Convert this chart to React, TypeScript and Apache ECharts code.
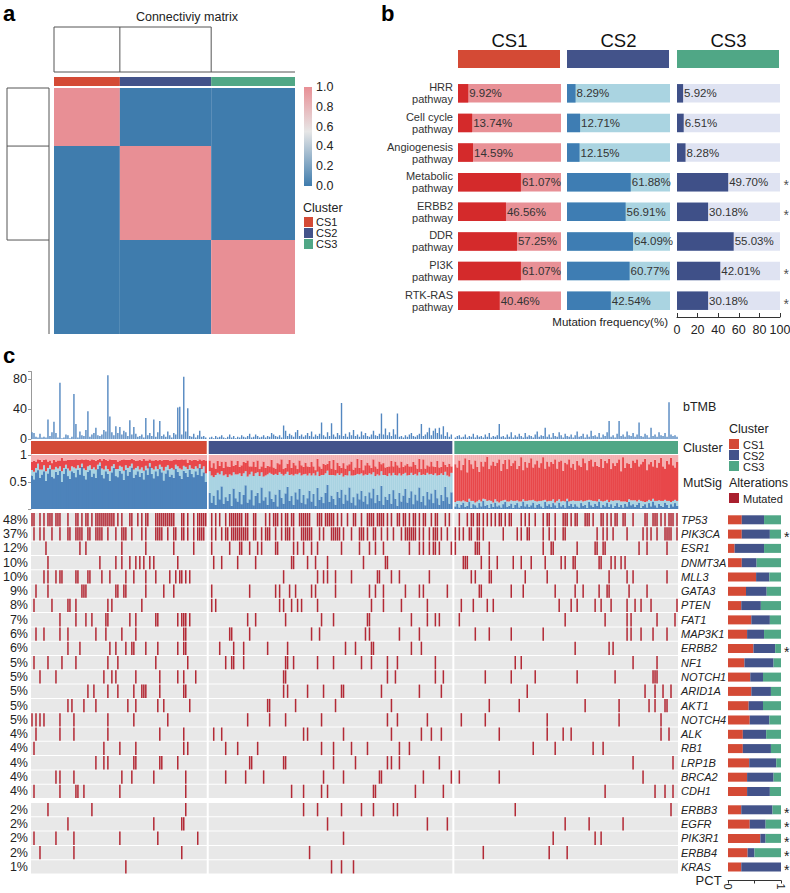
import React, { useEffect, useRef } from 'react';
import * as echarts from 'echarts';

const FONT = '"Liberation Sans", Arial, Helvetica, sans-serif';

// ---------- Panel a ----------
const clusters = ['CS1', 'CS2', 'CS3'];
const clusterColors = ['#d44a35', '#43538a', '#50a786'];
const clusterSizes = [88, 122, 112];
const consensusRowSizes = [76, 123, 123];
const consensus = [
  [1, 0, 0],
  [0, 1, 0],
  [0, 0, 1],
];

// ---------- Panel b ----------
const pathways = ['HRR\npathway', 'Cell cycle\npathway', 'Angiogenesis\npathway', 'Metabolic\npathway', 'ERBB2\npathway', 'DDR\npathway', 'PI3K\npathway', 'RTK-RAS\npathway'];
const freqCS1 = [9.92, 13.74, 14.59, 61.07, 46.56, 57.25, 61.07, 40.46];
const freqCS2 = [8.29, 12.71, 12.15, 61.88, 56.91, 64.09, 60.77, 42.54];
const freqCS3 = [5.92, 6.51, 8.28, 49.70, 30.18, 55.03, 42.01, 30.18];
const pathwaySig = [false, false, false, true, true, false, true, true];
const freqTicks = [0, 20, 40, 60, 80, 100];

// ---------- Panel c : bTMB ----------
const tmbCS1 = [9,8,3,2,7,2,3,2,26,4, 9,23,8,2,75,1,2,6,5,1, 3,60,20,2,10,5,4,12,37,3, 6,8,15,5,4,6,12,10,85,30, 9,5,17,8,16,6,11,9,4,25, 6,16,7,3,4,6,2,28,5,8, 4,26,3,9,24,4,6,3,10,5, 2,8,6,42,43,6,83,10,41,4, 3,7,2,5,11,3,4,2];
const tmbCS2 = [2,3,1,4,2,3,5,2,1,3, 6,2,4,1,3,2,5,3,2,4, 7,2,3,6,4,2,3,5,2,4, 3,8,6,4,3,5,2,18,11,4, 7,5,3,9,12,4,6,3,5,8, 4,10,3,6,4,7,22,5,3,9, 4,21,6,3,8,5,48,4,7,3, 9,5,12,4,6,3,10,5,8,4, 3,6,11,5,4,7,34,6,14,5, 9,4,13,6,34,3,4,2,5,3, 6,8,4,3,5,7,20,4,6,9, 15,5,11,14,8,15,6,17,4,9, 3,6];
const tmbCS3 = [2,4,5,2,3,6,2,4,3,7, 2,5,3,4,2,6,3,8,2,4, 3,5,20,3,4,2,6,3,9,2, 5,3,7,4,2,8,3,5,4,2, 6,10,3,5,4,15,3,6,2,8, 4,3,9,5,2,7,4,3,6,2, 5,10,3,4,7,2,6,3,11,4, 5,3,8,2,6,4,9,24,3,5, 2,7,24,4,6,3,10,5,4,8, 3,6,22,4,3,7,5,2,15,4, 6,3,9,5,4,8,3,49,6,4, 5,3];

// ---------- Panel c : MutSig (dark blue / light blue / red fractions; rest pink) ----------
const sigDarkCS1 = [.62,.55,.68,.72,.58,.64,.70,.52,.66,.74, .60,.57,.69,.63,.71,.50,.65,.75,.61,.56, .70,.67,.59,.73,.64,.78,.62,.55,.69,.72, .60,.66,.58,.74,.80,.63,.57,.70,.65,.52, .68,.76,.61,.59,.71,.66,.54,.73,.62,.69, .77,.58,.64,.70,.60,.67,.55,.72,.63,.79, .65,.57,.70,.61,.74,.68,.53,.66,.72,.60, .64,.58,.75,.69,.62,.56,.71,.67,.60,.73, .65,.59,.70,.63,.76,.61,.68,.50];
const sigLightCS1 = [.10,.14,.08,.12,.15,.09,.11,.18,.10,.07, .13,.16,.09,.12,.08,.20,.11,.07,.14,.15, .09,.10,.16,.08,.12,.06,.13,.17,.10,.09, .14,.11,.15,.08,.06,.12,.16,.10,.09,.18, .11,.07,.13,.15,.09,.12,.17,.08,.14,.10, .07,.15,.12,.09,.13,.10,.16,.08,.12,.06, .11,.16,.09,.13,.08,.10,.18,.12,.09,.14, .12,.15,.07,.10,.13,.17,.09,.11,.14,.08, .10,.15,.09,.12,.07,.13,.11,.16];
const sigRedCS1 = [.15,.20,.12,.08,.18,.14,.10,.22,.12,.09, .12,.18,.10,.15,.11,.25,.14,.08,.16,.20, .12,.14,.17,.10,.15,.08,.16,.20,.12,.09, .18,.14,.16,.09,.07,.15,.20,.11,.15,.22, .12,.08,.17,.14,.10,.13,.21,.10,.15,.12, .09,.18,.13,.11,.18,.12,.22,.10,.15,.07, .14,.17,.12,.16,.09,.12,.20,.13,.10,.16, .14,.18,.10,.12,.16,.19,.11,.14,.12,.10, .15,.17,.12,.14,.09,.16,.12,.24];
const sigDarkCS2 = [.30,.12,.25,.08,.35,.18,.42,.10,.22,.15, .28,.06,.38,.20,.14,.32,.09,.26,.44,.12, .18,.35,.07,.24,.30,.11,.40,.16,.22,.08, .33,.19,.13,.27,.05,.36,.21,.10,.29,.41, .15,.24,.08,.31,.18,.37,.12,.26,.09,.20, .34,.14,.28,.06,.39,.17,.23,.11,.30,.45, .13,.25,.19,.08,.32,.21,.36,.10,.27,.16, .40,.12,.22,.07,.29,.18,.34,.14,.24,.09, .31,.20,.38,.11,.26,.15,.43,.08,.23,.17, .28,.10,.35,.19,.06,.30,.14,.25,.37,.12, .21,.33,.09,.27,.16,.40,.13,.24,.07,.32, .18,.29,.11,.36,.20,.08,.26,.15,.41,.22, .10,.31];
const sigLightCS2 = [.40,.50,.34,.55,.32,.46,.28,.52,.42,.44, .36,.56,.30,.44,.50,.34,.52,.40,.26,.48, .46,.34,.54,.42,.38,.50,.28,.44,.40,.56, .34,.46,.50,.38,.58,.32,.44,.52,.36,.28, .48,.40,.54,.34,.46,.30,.50,.38,.56,.42, .32,.48,.38,.56,.30,.44,.40,.52,.36,.26, .50,.38,.44,.54,.34,.42,.30,.50,.36,.46, .30,.50,.40,.56,.36,.46,.32,.48,.40,.54, .35,.44,.30,.50,.38,.47,.27,.55,.40,.44, .38,.52,.32,.44,.56,.36,.48,.40,.30,.50, .42,.34,.54,.38,.46,.28,.50,.40,.56,.35, .46,.36,.52,.30,.42,.55,.40,.48,.28,.40, .50,.36];
const sigRedCS2 = [.20,.15,.26,.12,.22,.16,.18,.14,.24,.20, .14,.28,.12,.18,.25,.12,.20,.21,.16,.30, .15,.10,.27,.12,.22,.13,.11,.28,.14,.16, .12,.26,.14,.10,.22,.15,.27,.12,.11,.15, .28,.12,.24,.16,.10,.23,.19,.14,.21,.17, .12,.25,.13,.10,.24,.18,.12,.21,.16,.13, .26,.12,.28,.11,.20,.17,.10,.25,.12,.19, .13,.26,.11,.14,.28,.12,.25,.10,.17,.23, .15,.12,.24,.18,.11,.26,.13,.22,.14,.17, .13,.27,.12,.25,.19,.11,.26,.13,.14,.22, .16,.12,.24,.17,.13,.25,.11,.28,.12,.14, .15,.23,.16,.12,.27,.14,.12,.25,.13,.16, .24,.12];
const sigDarkCS3 = [.05,.10,.03,.08,.12,.04,.06,.14,.02,.09, .07,.03,.11,.05,.15,.06,.08,.02,.10,.04, .12,.05,.07,.03,.09,.13,.04,.06,.10,.02, .08,.11,.03,.06,.14,.05,.09,.04,.07,.12, .03,.08,.10,.05,.02,.13,.06,.09,.04,.11, .07,.02,.12,.05,.08,.03,.15,.06,.10,.04, .09,.05,.03,.11,.06,.08,.02,.13,.07,.04, .10,.06,.14,.03,.08,.05,.12,.04,.09,.02, .06,.11,.04,.08,.03,.10,.05,.13,.07,.09, .04,.08,.12,.02,.06,.09,.03,.11,.05,.14, .07,.03,.10,.06,.04,.12,.08,.02,.09,.05, .11,.06];
const sigLightCS3 = [.08,.05,.12,.06,.04,.10,.07,.05,.13,.06, .05,.11,.06,.09,.04,.12,.07,.14,.05,.08, .06,.09,.05,.12,.07,.04,.10,.08,.06,.13, .07,.05,.11,.08,.04,.10,.06,.12,.09,.05, .12,.06,.05,.10,.14,.04,.08,.06,.11,.07, .05,.13,.06,.09,.07,.11,.04,.08,.05,.12, .06,.10,.12,.05,.08,.07,.14,.04,.09,.11, .05,.08,.04,.12,.06,.10,.05,.09,.07,.13, .10,.05,.12,.06,.11,.04,.08,.05,.09,.07, .12,.06,.05,.13,.08,.04,.11,.06,.10,.05, .08,.12,.06,.09,.11,.05,.07,.13,.04,.10, .06,.09];
const sigRedCS3 = [.70,.62,.75,.58,.66,.80,.55,.72,.68,.60, .78,.64,.52,.74,.60,.70,.82,.58,.66,.76, .62,.72,.80,.56,.68,.74,.60,.78,.64,.70, .75,.58,.66,.82,.54,.72,.62,.70,.78,.60, .68,.76,.62,.70,.80,.58,.74,.64,.72,.66, .80,.60,.70,.76,.56,.72,.64,.78,.62,.68, .58,.74,.66,.62,.80,.70,.56,.72,.76,.64, .72,.66,.60,.78,.62,.74,.68,.80,.58,.70, .64,.70,.76,.56,.82,.62,.72,.66,.60,.74, .70,.78,.62,.68,.74,.80,.58,.66,.72,.60, .76,.62,.70,.80,.64,.58,.74,.68,.82,.66, .60,.72];

// ---------- Panel c : oncoprint ----------
const genes = ['TP53','PIK3CA','ESR1','DNMT3A','MLL3','GATA3','PTEN','FAT1','MAP3K1','ERBB2','NF1','NOTCH1','ARID1A','AKT1','NOTCH4','ALK','RB1','LRP1B','BRCA2','CDH1','ERBB3','EGFR','PIK3R1','ERBB4','KRAS'];
const geneFreq = [48,37,12,10,10,9,8,7,6,6,5,5,5,5,5,4,4,4,4,4,2,2,2,2,1];
const firstGroupSize = 20;
// mutated sample indices within each cluster
const mutCS1 = [
  [0,1,4,6,8,9,10,12,13,14,18,22,23,25,27,28,30,32,33,34,35,36,37,38,39,40,41,43,45,49,50,53,55,57,58,62,63,64,65,66,67,68,69,70,71,75,76,78,81,83,84,85,86,87],
  [1,4,6,10,14,18,19,22,23,24,25,28,29,32,33,34,35,38,42,45,46,47,50,55,57,62,63,64,65,68,71,72,75,76,78,81,83,84,85,86],
  [7,24,27,45,57,71,81],
  [8,34,42,45,49,52,54,56,59,61,73],
  [6,8,12,14,15,22,23,28,29,35,39,47,51,57,62,69,72,74,75,77,79],
  [2,8,25,26,27,42,43,46,47,57,66,71],
  [1,10,18,19,22,38,40,55],
  [14,22,27,30,37,38,49,52,62,63,73,75,76,77,79],
  [2,6,14,18,32,37,45,52,76,77],
  [18,24,39,42,47,50,51,57,63,73,76,77],
  [1,8,15,22,38,43,62,78],
  [4,12,36,40,42,52,64,73,76,82],
  [28,31,38,43,51,55,56,57,64,76,77],
  [18,20,26,32,48,52,63,66,79],
  [0,2,4,6,14,21,38,51,68],
  [2,14,21,38,64,76],
  [1,36,44,52,76,78],
  [32,36,38,51,52,64,65,73],
  [12,14,21,45,50,61,77],
  [1,14,22,23,26,44,77],
  [8,30,77],
  [18,61,75,76],
  [1,12,21,44,63,83],
  [4,21,75],
  [47],
];
const mutCS2 = [
  [1,3,5,8,10,11,12,13,14,15,16,18,19,22,23,28,30,32,33,34,36,38,39,41,42,45,46,47,48,49,50,54,55,56,58,59,60,61,62,64,66,69,72,73,76,79,80,81,82,84,85,86,87,89,91,94,95,97,98,100,102,103,105,107,108,111,113,114,118,120],
  [1,3,6,8,9,11,12,13,14,15,16,17,18,19,22,23,26,28,29,30,33,36,38,39,40,42,46,47,48,49,50,51,55,57,61,62,63,64,65,67,71,75,76,77,79,82,83,86,89,92,96,98,99,100,101,102,103,105,107,110,112,113,114,116,119],
  [1,10,15,16,20,24,26,33,34,42,44,47,51,54,66,75,80,83,87,100,105,107,110,112,113,115,121],
  [2,6,14,23,41,42,49,53,59,77,88,89],
  [37,54,57,59,63,71,84,85,91,95,110],
  [1,20,33,35,40,43,51,53,63,80,83,87,98,105,107,119],
  [1,3,35,37,41,44,46,54,81,87,96,109],
  [19,23,38,56,62,79,80,101,109,113,115],
  [10,11,20,51,55,78,80,95,105],
  [5,12,17,29,39,68,73,81,82,101,106],
  [8,11,12,17,38,39,42,54,62,76,81,89,94,113],
  [37,38,89,93,113,117],
  [37,39,49,57,66,67,86,105,116],
  [29,30,43,63,91],
  [19,30,38,56,89,94,109],
  [2,6,47,49,67,91,106,111,116],
  [8,14,24,56,62,71,79,95,100],
  [20,21,37,38,62,73,89,91,95,115],
  [8,18,27,57,67,85,86,107,121],
  [41,47,56,59,82,83,103,117],
  [47,54,66,76,82,92,94],
  [59,109,119],
  [67],
  [50],
  [61,66,72],
];
const mutCS3 = [
  [2,6,8,9,11,12,14,16,18,20,22,23,25,27,28,33,35,37,40,44,46,47,50,54,55,56,58,60,61,65,66,67,69,73,74,76,78,80,81,84,85,89,95,96,99,100,101,103,105,107,108,109,111],
  [0,2,4,7,8,11,12,14,24,31,33,36,37,44,47,50,54,55,71,74,76,79,86,94,96,98,101,105,106,107,108,111],
  [0,10,11,12,17,44,48,49,61,70,71,74,75,92,96,106],
  [4,5,6,13,17,21,29,33,38,45,53,55,59,60,72,73,78,80,83,85],
  [8,10,17,18,35,46,61,77,86,89,106],
  [12,13,28,34,50,60,64,72,76,77,87,96],
  [3,9,16,19,52,58,61,70,73,78,86,90,93,98,111],
  [2,55,75,86,88,101,110],
  [10,17,28,44,86,88,93,99,106],
  [60,77,79],
  [30,33,89,101],
  [15,28,40,61,80,99,100,101],
  [36,95,100,104,108],
  [17,32,65,82,97,100,105,106],
  [3,15,46,82,103],
  [22,46,54,58,103,107],
  [39,50,69,74],
  [89,109],
  [2,22,94],
  [75,100,105,109],
  [30,108],
  [55,67,84],
  [49,70,73],
  [14,47,56],
  [],
];
// share of each gene's mutations in CS1 / CS2 / CS3 (PCT bars)
const pctCS1 = [.26,.26,.125,.26,.53,.34,.25,.44,.36,.48,.31,.42,.44,.39,.41,.28,.28,.40,.36,.36,.25,.41,.61,.37,.25];
const pctCS2 = [.42,.53,.555,.28,.25,.39,.37,.35,.32,.41,.55,.24,.37,.27,.37,.44,.53,.51,.50,.43,.59,.30,.10,.13,.75];
const pctCS3 = [.32,.21,.32,.46,.22,.27,.38,.21,.32,.11,.14,.34,.19,.34,.22,.28,.19,.09,.14,.21,.16,.29,.29,.50,0];
const geneSig = [false,true,false,false,false,false,false,false,false,true,false,false,false,false,false,false,false,false,false,false,true,true,true,true,true];

// ---------- colours ----------
const HEAT_PINK = '#e88f95';
const HEAT_BLUE = '#3f7cad';
const bDark = ['#d42a2b', '#3e7db3', '#3f5088'];
const bLight = ['#e89096', '#aad4e1', '#dfe3f2'];
const MUT = '#b32a36';
const SIG_COLORS = ['#4d83bb', '#a9d3e2', '#e8474a', '#f4b0b1'];

function buildOption() {
  // sample slots (one empty slot between clusters)
  const offsets: number[] = [];
  let acc = 0;
  clusterSizes.forEach((s) => { offsets.push(acc); acc += s + 1; });
  const totalSlots = acc - 1;
  const totalSamples = clusterSizes.reduce((a, b) => a + b, 0);

  // ---- panel a
  const colCuts = [0];
  clusterSizes.forEach((s) => colCuts.push(colCuts[colCuts.length - 1] + s));
  const rowCuts = [0];
  consensusRowSizes.forEach((s) => rowCuts.push(rowCuts[rowCuts.length - 1] + s));
  const heatData: number[][] = [];
  consensus.forEach((row, r) => row.forEach((v, c) => heatData.push([colCuts[c], rowCuts[r], colCuts[c + 1], rowCuts[r + 1], v])));
  const annA = clusters.map((_, k) => [colCuts[k], 0, colCuts[k + 1], k]);

  const A = { left: 54, top: 88, width: 241, height: 246 };
  const ax = (v: number) => A.left + (A.width * v) / totalSamples;
  const ay = (v: number) => A.top + (A.height * v) / totalSamples;

  // ---- panel c data
  const tmb = [tmbCS1, tmbCS2, tmbCS3];
  const tmbData: number[][] = [];
  tmb.forEach((arr, k) => arr.forEach((v, i) => tmbData.push([offsets[k] + i, v])));
  const sD = [sigDarkCS1, sigDarkCS2, sigDarkCS3];
  const sL = [sigLightCS1, sigLightCS2, sigLightCS3];
  const sR = [sigRedCS1, sigRedCS2, sigRedCS3];
  const sigData: number[][] = [];
  sD.forEach((arr, k) => arr.forEach((d, i) => sigData.push([offsets[k] + i, d, sL[k][i], sR[k][i]])));
  const clusterBarData = clusters.map((_, k) => [offsets[k], 0, offsets[k] + clusterSizes[k], k]);
  const rowPos = genes.map((_, i) => (i < firstGroupSize ? i : i + 0.28));
  const yMax = genes.length + 0.28;
  const mutLists = [mutCS1, mutCS2, mutCS3];
  const geneData = genes.map((_, i) => [0, rowPos[i], i]);

  const hiddenVal = (gridIndex: number, min: number, max: number, extra: any = {}) => ({
    gridIndex, type: 'value', min, max, show: false, ...extra,
  });

  const T = (x: number, y: number, text: string, style: any = {}) => ({
    type: 'text', x, y, silent: true,
    style: { text, fill: '#222', fontSize: 12, fontFamily: FONT, align: 'left', verticalAlign: 'middle', ...style },
  });
  const L = (x1: number, y1: number, x2: number, y2: number) => ({
    type: 'line', silent: true, shape: { x1, y1, x2, y2 }, style: { stroke: '#555', lineWidth: 1 },
  });
  const R = (x: number, y: number, w: number, h: number, fill: string) => ({
    type: 'rect', silent: true, shape: { x, y, width: w, height: h }, style: { fill },
  });

  const bLeft = [458, 567, 677];
  const bTop = 78.5, bW = 103, bH = 237;

  const graphics: any[] = [
    T(3, 13, 'a', { fontSize: 22, fontWeight: 'bold', fill: '#000' }),
    T(381, 13, 'b', { fontSize: 22, fontWeight: 'bold', fill: '#000' }),
    T(3, 355, 'c', { fontSize: 22, fontWeight: 'bold', fill: '#000' }),
    T(187, 17, 'Connectiviy matrix', { align: 'center', fontSize: 12.5 }),
    // top dendrogram
    L(ax(colCuts[0]), 72, ax(colCuts[0]), 27),
    L(ax(colCuts[0]), 27, ax(colCuts[2]), 27),
    L(ax(colCuts[2]), 27, ax(colCuts[2]), 72),
    L(ax(colCuts[1]), 27, ax(colCuts[1]), 72),
    L(ax(colCuts[0]), 72, ax(colCuts[3]), 72),
    // left dendrogram
    L(49, ay(rowCuts[0]), 7, ay(rowCuts[0])),
    L(7, ay(rowCuts[0]), 7, ay(rowCuts[2])),
    L(7, ay(rowCuts[2]), 49, ay(rowCuts[2])),
    L(7, ay(rowCuts[1]), 49, ay(rowCuts[1])),
    L(49, ay(rowCuts[0]), 49, ay(rowCuts[3])),
    // legend a
    T(303, 208, 'Cluster', { fontSize: 12.5 }),
    ...clusters.map((_, k) => R(304, 217 + 11 * k, 9, 10, clusterColors[k])),
    ...clusters.map((c, k) => T(316, 222 + 11 * k, c, { fontSize: 11 })),
    // panel b headers
    ...clusters.map((c, k) => T(bLeft[k] + bW / 2, 40, c, { align: 'center', fontSize: 18.5, fill: '#111' })),
    ...clusters.map((_, k) => R(bLeft[k], 50, bW - 1, 18, clusterColors[k])),
    T(668, 322, 'Mutation frequency(%)', { align: 'right', fontSize: 11.5 }),
    // panel c right labels
    T(683, 407, 'bTMB', { fontSize: 12.5 }),
    T(683, 448, 'Cluster', { fontSize: 12.5 }),
    T(683, 483, 'MutSig', { fontSize: 12.5 }),
    T(729, 429, 'Cluster', { fontSize: 12.5 }),
    ...clusters.map((_, k) => R(729, 439 + 11 * k, 10, 10, clusterColors[k])),
    ...clusters.map((c, k) => T(743, 444.5 + 11 * k, c, { fontSize: 11 })),
    T(729, 483, 'Alterations', { fontSize: 12.5 }),
    R(729, 493, 10, 10, '#a91f2e'),
    T(743, 498.5, 'Mutated', { fontSize: 11 }),
  ];

  const grids = [
    { left: A.left, top: A.top, width: A.width, height: A.height },
    { left: A.left, top: 77, width: A.width, height: 9 },
    { left: 304, top: 87, width: 8, height: 99 },
    { left: bLeft[0], top: bTop, width: bW, height: bH },
    { left: bLeft[1], top: bTop, width: bW, height: bH },
    { left: bLeft[2], top: bTop, width: bW, height: bH },
    { left: 31, top: 371.5, width: 647, height: 67.5 },
    { left: 31, top: 441, width: 647, height: 13 },
    { left: 31, top: 455, width: 647, height: 54 },
    { left: 31, top: 513, width: 647, height: 361.5 },
    { left: 728, top: 513, width: 53, height: 361.5 },
  ].map((g) => ({ ...g, containLabel: false, outerBoundsMode: 'none' }));

  const axisGray = { lineStyle: { color: '#999' } };

  const xAxis = [
    hiddenVal(0, 0, totalSamples),
    hiddenVal(1, 0, totalSamples),
    { gridIndex: 2, type: 'category', data: [''], show: false },
    hiddenVal(3, 0, 100),
    hiddenVal(4, 0, 100),
    {
      gridIndex: 5, type: 'value', min: 0, max: 100, interval: 20, position: 'bottom', offset: 1.5,
      axisLine: { show: true, onZero: false, lineStyle: { color: '#333' } },
      axisTick: { show: true, inside: true, length: 4, lineStyle: { color: '#333' } },
      splitLine: { show: false },
      axisLabel: { fontSize: 12.5, color: '#222', margin: 6, formatter: (v: number) => (freqTicks.includes(v) ? String(v) : '') },
    },
    hiddenVal(6, 0, totalSlots),
    hiddenVal(7, 0, totalSlots),
    hiddenVal(8, 0, totalSlots),
    hiddenVal(9, 0, totalSlots),
    {
      gridIndex: 10, type: 'value', min: 0, max: 1, interval: 0.5, position: 'bottom', offset: 6,
      axisLine: { show: true, onZero: false, lineStyle: { color: '#333' } },
      axisTick: { show: true, length: 3, lineStyle: { color: '#333' } },
      splitLine: { show: false },
      axisLabel: { fontSize: 11, color: '#222', margin: 3, rotate: -90, formatter: (v: number) => (v === 0 || v === 1 ? String(v) : '') },
      name: 'PCT', nameLocation: 'start', nameGap: 3,
      nameTextStyle: { fontSize: 13, color: '#222', verticalAlign: 'middle', padding: [4, 0, 0, 0] },
    },
  ];

  const yAxis = [
    hiddenVal(0, 0, totalSamples, { inverse: true }),
    hiddenVal(1, 0, 1),
    {
      gridIndex: 2, type: 'value', min: 0, max: 1, interval: 0.2, position: 'right',
      axisLine: { show: false }, axisTick: { show: false }, splitLine: { show: false },
      axisLabel: { fontSize: 12.5, color: '#222', margin: 4, formatter: (v: number) => v.toFixed(1) },
    },
    {
      gridIndex: 3, type: 'category', data: pathways, inverse: true,
      axisLine: { show: false }, axisTick: { show: false },
      axisLabel: { fontSize: 11, lineHeight: 12, color: '#333', margin: 5 },
    },
    { gridIndex: 4, type: 'category', data: pathways, inverse: true, show: false },
    { gridIndex: 5, type: 'category', data: pathways, inverse: true, show: false },
    {
      gridIndex: 6, type: 'value', min: 0, max: 90, interval: 40,
      axisLine: { show: true, ...axisGray }, axisTick: { show: true, length: 3, ...axisGray },
      splitLine: { show: false },
      axisLabel: { fontSize: 12.5, color: '#222', margin: 4, formatter: (v: number) => (v % 40 === 0 ? String(v) : '') },
    },
    hiddenVal(7, 0, 1),
    {
      gridIndex: 8, type: 'value', min: 0, max: 1, interval: 0.5,
      axisLine: { show: true, ...axisGray }, axisTick: { show: true, length: 3, ...axisGray },
      splitLine: { show: false },
      axisLabel: { fontSize: 12.5, color: '#222', margin: 4, formatter: (v: number) => (v === 0 ? '' : String(v)) },
    },
    hiddenVal(9, 0, yMax, { inverse: true }),
    hiddenVal(10, 0, yMax, { inverse: true }),
  ];

  const rectFrom = (p0: number[], p1: number[], fill: string) => ({
    type: 'rect',
    shape: { x: Math.min(p0[0], p1[0]), y: Math.min(p0[1], p1[1]), width: Math.abs(p1[0] - p0[0]), height: Math.abs(p1[1] - p0[1]) },
    style: { fill },
  });

  const freqs = [freqCS1, freqCS2, freqCS3];

  const series: any[] = [
    {
      type: 'custom', xAxisIndex: 0, yAxisIndex: 0, data: heatData,
      renderItem: (params: any, api: any) => {
        const p0 = api.coord([api.value(0), api.value(1)]);
        const p1 = api.coord([api.value(2), api.value(3)]);
        return rectFrom(p0, p1, api.visual('color'));
      },
    },
    {
      type: 'custom', xAxisIndex: 1, yAxisIndex: 1, data: annA,
      renderItem: (params: any, api: any) => {
        const p0 = api.coord([api.value(0), 1]);
        const p1 = api.coord([api.value(2), 0]);
        return rectFrom(p0, p1, clusterColors[api.value(3)]);
      },
    },
    {
      type: 'bar', xAxisIndex: 2, yAxisIndex: 2, data: [1], barWidth: '100%',
      itemStyle: {
        color: { type: 'linear', x: 0, y: 0, x2: 0, y2: 1, colorStops: [
          { offset: 0, color: HEAT_PINK }, { offset: 0.45, color: '#e6e6e6' }, { offset: 1, color: HEAT_BLUE },
        ] },
      },
    },
    ...freqs.map((f, k) => ({
      type: 'bar', xAxisIndex: 3 + k, yAxisIndex: 3 + k, data: f, barWidth: 18.5,
      showBackground: true, backgroundStyle: { color: bLight[k], opacity: 1 },
      itemStyle: { color: bDark[k] },
      label: { show: true, position: 'right', distance: 1, fontSize: 11.5, color: '#333', formatter: (p: any) => p.value.toFixed(2) + '%' },
    })),
    {
      type: 'scatter', xAxisIndex: 5, yAxisIndex: 5, symbolSize: 1, itemStyle: { color: 'rgba(0,0,0,0)' },
      data: pathways.map((_, i) => (pathwaySig[i] ? [100, i] : null)).filter((d) => d),
      label: { show: true, position: 'right', distance: 3, offset: [0, 3], fontSize: 14, color: '#222', formatter: '*' },
    },
    {
      type: 'custom', xAxisIndex: 6, yAxisIndex: 6, data: tmbData,
      renderItem: (params: any, api: any) => {
        const x = api.value(0);
        return rectFrom(api.coord([x + 0.15, api.value(1)]), api.coord([x + 0.85, 0]), '#5387c0');
      },
    },
    {
      type: 'custom', xAxisIndex: 7, yAxisIndex: 7, data: clusterBarData,
      renderItem: (params: any, api: any) =>
        rectFrom(api.coord([api.value(0), 1]), api.coord([api.value(2), 0]), clusterColors[api.value(3)]),
    },
    {
      type: 'custom', xAxisIndex: 8, yAxisIndex: 8, data: sigData,
      renderItem: (params: any, api: any) => {
        const x = api.value(0);
        const d = api.value(1), l = api.value(2), r = api.value(3);
        const x0 = api.coord([x, 0])[0];
        const x1 = api.coord([x + 1, 0])[0] + 0.25;
        const ys = [0, d, d + l, d + l + r, 1].map((v) => api.coord([x, v])[1]);
        const children: any[] = [];
        for (let s = 0; s < 4; s++) {
          children.push({
            type: 'rect',
            shape: { x: x0, y: ys[s + 1], width: x1 - x0, height: ys[s] - ys[s + 1] },
            style: { fill: SIG_COLORS[s] },
          });
        }
        return { type: 'group', children };
      },
    },
    {
      type: 'custom', xAxisIndex: 9, yAxisIndex: 9, data: geneData,
      renderItem: (params: any, api: any) => {
        const g = api.value(2);
        const y0 = rowPos[g];
        const top = api.coord([0, y0])[1];
        const bot = api.coord([0, y0 + 0.93])[1];
        const sw = api.coord([1, y0])[0] - api.coord([0, y0])[0];
        const children: any[] = [];
        clusterSizes.forEach((s, k) => {
          const xa = api.coord([offsets[k], y0])[0];
          const xb = api.coord([offsets[k] + s, y0])[0];
          children.push({ type: 'rect', shape: { x: xa, y: top, width: xb - xa, height: bot - top }, style: { fill: '#e8e8e8' } });
        });
        clusterSizes.forEach((s, k) => {
          mutLists[k][g].forEach((idx: number) => {
            const x = api.coord([offsets[k] + idx, y0])[0];
            children.push({ type: 'rect', shape: { x: x + sw * 0.12, y: top, width: sw * 0.76, height: bot - top }, style: { fill: MUT } });
          });
        });
        const mid = (top + bot) / 2;
        const left = api.coord([0, y0])[0];
        const right = api.coord([totalSlots, y0])[0];
        children.push({ type: 'text', x: left - 3, y: mid, style: { text: geneFreq[g] + '%', align: 'right', verticalAlign: 'middle', fontSize: 12.5, fontFamily: FONT, fill: '#222' } });
        children.push({ type: 'text', x: right + 3, y: mid, style: { text: genes[g], align: 'left', verticalAlign: 'middle', fontSize: 11, fontStyle: 'italic', fontFamily: FONT, fill: '#222' } });
        return { type: 'group', children };
      },
    },
    {
      type: 'custom', xAxisIndex: 10, yAxisIndex: 10, data: geneData,
      renderItem: (params: any, api: any) => {
        const g = api.value(2);
        const y0 = rowPos[g];
        const fr = [pctCS1[g], pctCS2[g], pctCS3[g]];
        const children: any[] = [];
        let c = 0;
        fr.forEach((f, k) => {
          if (f > 0) children.push(rectFrom(api.coord([c, y0 + 0.16]), api.coord([c + f, y0 + 0.79]), clusterColors[k]));
          c += f;
        });
        if (geneSig[g]) {
          const p = api.coord([1, y0 + 0.5]);
          children.push({ type: 'text', x: p[0] + 3, y: p[1] + 3, style: { text: '*', align: 'left', verticalAlign: 'middle', fontSize: 14, fontFamily: FONT, fill: '#222' } });
        }
        return { type: 'group', children };
      },
    },
  ];

  return {
    animation: false,
    backgroundColor: '#fff',
    textStyle: { fontFamily: FONT },
    grid: grids,
    xAxis,
    yAxis,
    visualMap: [{
      type: 'continuous', show: false, min: 0, max: 1, dimension: 4, seriesIndex: 0,
      inRange: { color: [HEAT_BLUE, '#e6e6e6', HEAT_PINK] },
    }],
    series,
    graphic: { elements: graphics },
  };
}

export default function App() {
  const ref = useRef<HTMLDivElement>(null);
  useEffect(() => {
    if (!ref.current) return;
    const chart = echarts.init(ref.current, null, { renderer: 'svg' });
    chart.setOption(buildOption() as any);
    return () => chart.dispose();
  }, []);
  return <div ref={ref} style={{ position: 'fixed', left: 0, top: 0, width: 790, height: 893, background: '#fff' }} />;
}
